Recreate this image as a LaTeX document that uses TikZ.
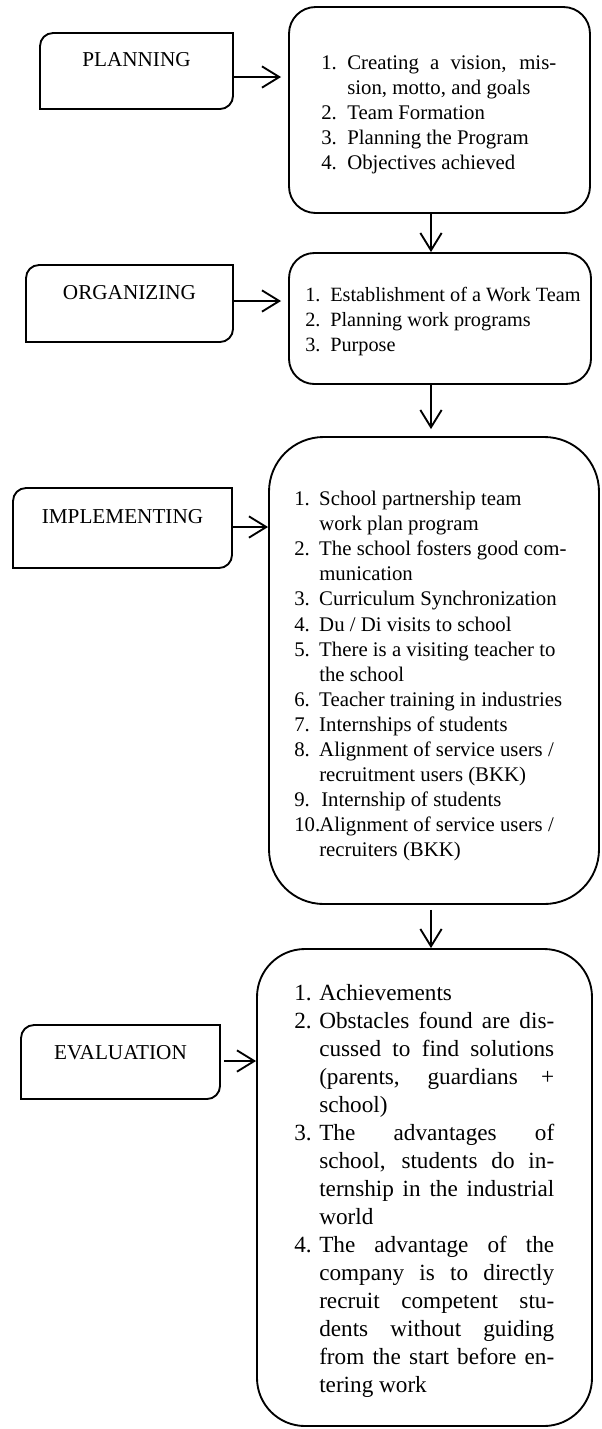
\documentclass[tikz,border=0pt]{standalone}
\usepackage{fontspec}
\setmainfont{Liberation Serif}
\usetikzlibrary{arrows.meta,calc,fit}

% list numbers and continuation indents
\newcommand\lnum[2][18.75pt]{\makebox[#1][l]{#2}}
\newcommand\lcont[1][18.75pt]{\hspace*{#1}}
% justified lines
\newcommand\jlinea[1]{\makebox[156.75pt][s]{#1}}
\newcommand\jlineb[1]{\makebox[176.25pt][s]{#1}}

\tikzset{
  box/.style={draw, line width=1.4pt, inner sep=0pt},
  stage/.style={inner sep=0pt, outer sep=0pt},
  stageline/.style={line width=1.4pt},
  stagetext/.style={font=\fontsize{15.9pt}{19pt}\selectfont, inner sep=0pt},
  listtext/.style={anchor=north west, inner sep=0pt, align=left,
    font=\fontsize{15.6pt}{18.8pt}\selectfont},
  listbig/.style={anchor=north west, inner sep=0pt, align=left,
    font=\fontsize{17.4pt}{21pt}\selectfont},
  arr/.style={line width=1.4pt, -{Straight Barb[length=13pt,width=16pt]}},
}

% frame of a stage label: rounded top-left and bottom-right corners
\newcommand\stageframe[1]{%
  \draw[stageline] (#1.south west) -- ($(#1.north west)+(0,13)$)
    .. controls ($(#1.north west)+(0,5.8)$) and ($(#1.north west)+(5.8,0)$) ..
    ($(#1.north west)+(13,0)$) -- (#1.north east) -- ($(#1.south east)+(0,-13)$)
    .. controls ($(#1.south east)+(0,-5.8)$) and ($(#1.south east)+(-5.8,0)$) ..
    ($(#1.south east)+(-13,0)$) -- cycle;}

\begin{document}
\begin{tikzpicture}[x=0.75pt, y=-0.75pt]
\useasboundingbox (0,0) rectangle (601,1429);

% stage labels
\node[stage, fit={(40,33)(233,109)}] (p) {};
\node[stage, fit={(26,265)(233,342)}] (o) {};
\node[stage, fit={(13,488)(232,568)}] (i) {};
\node[stage, fit={(21,1025)(220,1099)}] (e) {};
\stageframe{p}\stageframe{o}\stageframe{i}\stageframe{e}
\node[stagetext] (pt) at ($(p.north)+(0,27)$) {PLANNING};
\node[stagetext] (ot) at ($(o.north)+(0,28)$) {ORGANIZING};
\node[stagetext] (it) at ($(i.north)+(0,29)$) {IMPLEMENTING};
\node[stagetext] (et) at ($(e.north)+(0,28)$) {EVALUATION};

% detail boxes
\node[box, rounded corners=20pt, fit={(289,7)(590,213)}] (b1) {};
\node[box, rounded corners=19pt, fit={(289,253)(591,384)}] (b2) {};
\node[box, rounded corners=41pt, fit={(269,437)(599,904)}] (b3) {};
\node[box, rounded corners=36pt, fit={(257,949)(592,1426)}] (b4) {};

\node[listtext] (t1) at (321,55) {%
\lnum[19.5pt]{1.}\jlinea{Creating a vision, mis-}\\
\lcont[19.5pt]sion, motto, and goals\\
\lnum[19.5pt]{2.}Team Formation\\
\lnum[19.5pt]{3.}Planning the Program\\
\lnum[19.5pt]{4.}Objectives achieved};

\node[listtext, font=\fontsize{15.2pt}{18.8pt}\selectfont] (t2) at (305,287) {%
\lnum{1.}Establishment of a Work Team\\
\lnum{2.}Planning work programs\\
\lnum{3.}Purpose};

\node[listtext] (t3) at (294,491) {%
\lnum{1.}School partnership team\\
\lcont work plan program\\
\lnum{2.}The school fosters good com-\\
\lcont munication\\
\lnum{3.}Curriculum Synchronization\\
\lnum{4.}Du / Di visits to school\\
\lnum{5.}There is a visiting teacher to\\
\lcont the school\\
\lnum{6.}Teacher training in industries\\
\lnum{7.}Internships of students\\
\lnum{8.}Alignment of service users /\\
\lcont recruitment users (BKK)\\
\lnum{9.}\hspace{1.5pt}Internship of students\\
\lnum{10.}Alignment of service users /\\
\lcont recruiters (BKK)};

\node[listbig] (t4) at (294,984) {%
\lnum{1.}Achievements\\
\lnum{2.}\jlineb{Obstacles found are dis-}\\
\lcont\jlineb{cussed to find solutions}\\
\lcont\jlineb{(parents, guardians +}\\
\lcont school)\\
\lnum{3.}\jlineb{The advantages of}\\
\lcont\jlineb{school, students do in-}\\
\lcont\jlineb{ternship in the industrial}\\
\lcont world\\
\lnum{4.}\jlineb{The advantage of the}\\
\lcont\jlineb{company is to directly}\\
\lcont\jlineb{recruit competent stu-}\\
\lcont\jlineb{dents without guiding}\\
\lcont\jlineb{from the start before en-}\\
\lcont tering work};

% connectors
\coordinate (ya) at (0,77);
\coordinate (yb) at (0,301);
\coordinate (yc) at (0,527);
\coordinate (yd) at (0,1061);
\coordinate (vx) at (431,0);
\draw[arr, shorten >=5.25pt] (p.east |- ya) -- (b1.west |- ya);
\draw[arr, shorten >=5.25pt] (o.east |- yb) -- (b2.west |- yb);
\draw[arr] (i.east |- yc) -- (b3.west |- yc);
\draw[arr, shorten <=3pt] (e.east |- yd) -- (b4.west |- yd);
\draw[arr] (b1.south -| vx) -- (b2.north -| vx);
\draw[arr, shorten >=5.25pt] (b2.south -| vx) -- (b3.north -| vx);
\draw[arr, shorten <=3.75pt] (b3.south -| vx) -- (b4.north -| vx);
\end{tikzpicture}
\end{document}
